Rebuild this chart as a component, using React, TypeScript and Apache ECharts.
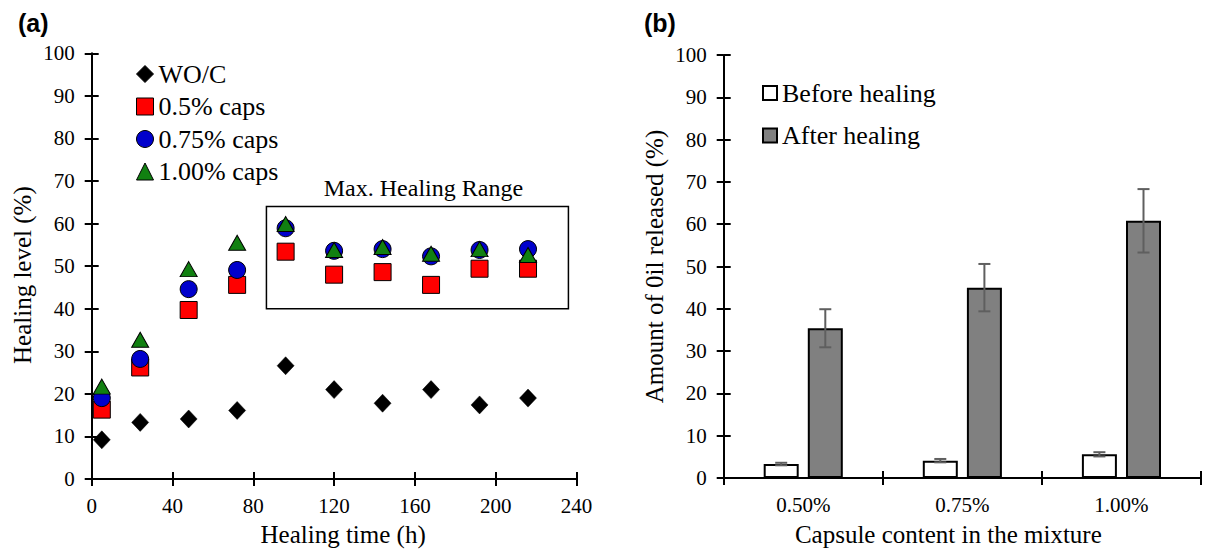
import React, { useEffect, useRef } from "react";
import * as echarts from "echarts";

// ---------- data (a) ----------
const hours = [5, 24, 48, 72, 96, 120, 144, 168, 192, 216];
const wocLevel = [9.2, 13.3, 14.1, 16.1, 26.6, 21.0, 17.8, 21.0, 17.4, 19.0];
const caps050Level = [16.3, 26.2, 39.7, 45.6, 53.4, 48.0, 48.6, 45.6, 49.4, 49.4];
const caps075Level = [19.0, 28.2, 44.6, 49.1, 58.9, 53.6, 54.0, 52.3, 53.8, 54.0];
const caps100Level = [21.7, 32.7, 49.3, 55.5, 59.9, 53.8, 54.5, 52.9, 54.0, 52.6];
const seriesNamesA = ["WO/C", "0.5% caps", "0.75% caps", "1.00% caps"];
const maxRangeHours = [86.5, 236];
const maxRangeLevel = [40, 64];
const maxRangeLabel = "Max. Healing Range";

// ---------- data (b) ----------
const capsuleContent = ["0.50%", "0.75%", "1.00%"];
const beforeHealing = [3.3, 4.1, 5.6];
const beforeErr = [0.3, 0.4, 0.5];
const afterHealing = [35.4, 45.0, 60.8];
const afterErr = [4.5, 5.6, 7.5];
const seriesNamesB = ["Before healing", "After healing"];

const FONT = "Liberation Serif";
const BAR_W = 0.22;
const BAR_GAP = 0.26;

function pair(xs: number[], ys: number[]) {
  return xs.map((x, i) => [x, ys[i]]);
}

function errorSeries(vals: number[], errs: number[], side: number) {
  return {
    type: "custom",
    xAxisIndex: 2,
    yAxisIndex: 2,
    z: 10,
    silent: true,
    data: vals.map((v, i) => [i, v - errs[i], v + errs[i]]),
    renderItem: (params: any, api: any) => {
      const i = api.value(0);
      const lo = api.coord([i, api.value(1)]);
      const hi = api.coord([i, api.value(2)]);
      const band = api.size([1, 0])[0];
      const bw = band * BAR_W;
      const gap = bw * BAR_GAP;
      const x = lo[0] + (side * (bw + gap)) / 2;
      const cap = 6;
      const style = { stroke: "#5f5f5f", lineWidth: 2 };
      return {
        type: "group",
        children: [
          { type: "line", shape: { x1: x, y1: lo[1], x2: x, y2: hi[1] }, style },
          { type: "line", shape: { x1: x - cap, y1: hi[1], x2: x + cap, y2: hi[1] }, style },
          { type: "line", shape: { x1: x - cap, y1: lo[1], x2: x + cap, y2: lo[1] }, style },
        ],
      };
    },
  };
}

const axisLine = { show: true, lineStyle: { color: "#000", width: 2 } };
const tickOut = { show: true, length: 7, lineStyle: { color: "#000", width: 2 } };
const tickIn = { show: true, inside: true, length: 7, lineStyle: { color: "#000", width: 2 } };
const labelStyle = { fontFamily: FONT, fontSize: 21, color: "#000" };
const nameStyle = { fontFamily: FONT, fontSize: 25, color: "#000" };

export default function App() {
  const ref = useRef<HTMLDivElement>(null);
  useEffect(() => {
    if (!ref.current) return;
    const chart = echarts.init(ref.current, undefined, { renderer: "svg" });
    const option: any = {
      animation: false,
      backgroundColor: "#fff",
      textStyle: { fontFamily: FONT },
      title: [
        {
          text: "(a)",
          left: 13,
          top: 5,
          textStyle: { fontFamily: "Liberation Sans", fontWeight: "bold", fontSize: 25, color: "#000" },
        },
        {
          text: "(b)",
          left: 639,
          top: 5,
          textStyle: { fontFamily: "Liberation Sans", fontWeight: "bold", fontSize: 25, color: "#000" },
        },
      ],
      legend: [
        {
          data: seriesNamesA,
          orient: "vertical",
          left: 131,
          top: 56,
          itemWidth: 17,
          itemHeight: 17,
          itemGap: 6.5,
          itemStyle: { borderColor: "#000", borderWidth: 1, opacity: 1 },
          textStyle: { fontFamily: FONT, fontSize: 26, color: "#000" },
          selectedMode: false,
        },
        {
          data: seriesNamesB,
          orient: "vertical",
          left: 757,
          top: 75,
          itemWidth: 14,
          itemHeight: 14,
          itemGap: 16.5,
          icon: "rect",
          textStyle: { fontFamily: FONT, fontSize: 26, color: "#000" },
          selectedMode: false,
        },
      ],
      grid: [
        { left: 91.7, top: 53.3, width: 484.8, height: 426, containLabel: false },
        { left: 723.7, top: 55, width: 477.3, height: 425.7, containLabel: false },
      ],
      xAxis: [
        {
          gridIndex: 0,
          type: "value",
          min: 0,
          max: 240,
          interval: 40,
          axisLine,
          axisTick: tickOut,
          axisLabel: { ...labelStyle, margin: 16 },
          splitLine: { show: false },
          name: "Healing time (h)",
          nameLocation: "middle",
          nameGap: 43,
          nameTextStyle: { ...nameStyle, padding: [0, 0, 0, 18] },
        },
        {
          gridIndex: 0,
          type: "value",
          position: "bottom",
          min: 0,
          max: 240,
          interval: 40,
          axisLine: { show: false },
          axisTick: tickIn,
          axisLabel: { show: false },
          splitLine: { show: false },
        },
        {
          gridIndex: 1,
          type: "category",
          data: capsuleContent,
          axisLine,
          axisTick: tickOut,
          axisLabel: { ...labelStyle, margin: 16 },
          splitLine: { show: false },
          name: "Capsule content in the mixture",
          nameLocation: "middle",
          nameGap: 44,
          nameTextStyle: { ...nameStyle, padding: [0, 28, 0, 0] },
        },
        {
          gridIndex: 1,
          type: "category",
          position: "bottom",
          data: capsuleContent,
          axisLine: { show: false },
          axisTick: tickIn,
          axisLabel: { show: false },
          splitLine: { show: false },
        },
      ],
      yAxis: [
        {
          gridIndex: 0,
          type: "value",
          min: 0,
          max: 100,
          interval: 10,
          axisLine,
          axisTick: tickOut,
          axisLabel: { ...labelStyle, margin: 17 },
          splitLine: { show: false },
          name: "Healing level (%)",
          nameLocation: "middle",
          nameGap: 57,
          nameTextStyle: { ...nameStyle, padding: [0, 18, 0, 0] },
        },
        {
          gridIndex: 0,
          type: "value",
          position: "left",
          min: 0,
          max: 100,
          interval: 10,
          axisLine: { show: false },
          axisTick: tickIn,
          axisLabel: { show: false },
          splitLine: { show: false },
        },
        {
          gridIndex: 1,
          type: "value",
          min: 0,
          max: 100,
          interval: 10,
          axisLine,
          axisTick: tickOut,
          axisLabel: { ...labelStyle, margin: 17 },
          splitLine: { show: false },
          name: "Amount of 0il released (%)",
          nameLocation: "middle",
          nameGap: 57,
          nameTextStyle: nameStyle,
        },
        {
          gridIndex: 1,
          type: "value",
          position: "left",
          min: 0,
          max: 100,
          interval: 10,
          axisLine: { show: false },
          axisTick: tickIn,
          axisLabel: { show: false },
          splitLine: { show: false },
        },
      ],
      series: [
        {
          name: seriesNamesA[0],
          type: "scatter",
          xAxisIndex: 0,
          yAxisIndex: 0,
          symbol: "diamond",
          symbolSize: [17, 18],
          itemStyle: { color: "#000", borderColor: "#000", borderWidth: 0.5, opacity: 1 },
          data: pair(hours, wocLevel),
          markArea: {
            silent: true,
            itemStyle: { color: "rgba(0,0,0,0)", borderColor: "#000", borderWidth: 1.5, opacity: 1 },
            label: {
              show: true,
              position: "top",
              distance: 6,
              offset: [6, 0],
              fontFamily: FONT,
              fontSize: 24,
              color: "#000",
            },
            data: [
              [
                { name: maxRangeLabel, coord: [maxRangeHours[0], maxRangeLevel[1]] },
                { coord: [maxRangeHours[1], maxRangeLevel[0]] },
              ],
            ],
          },
        },
        {
          name: seriesNamesA[1],
          type: "scatter",
          xAxisIndex: 0,
          yAxisIndex: 0,
          symbol: "rect",
          symbolSize: 17,
          itemStyle: { color: "#ff0000", borderColor: "#000", borderWidth: 1, opacity: 1 },
          data: pair(hours, caps050Level),
        },
        {
          name: seriesNamesA[2],
          type: "scatter",
          xAxisIndex: 0,
          yAxisIndex: 0,
          symbol: "circle",
          symbolSize: 17,
          itemStyle: { color: "#0000cc", borderColor: "#000", borderWidth: 1, opacity: 1 },
          data: pair(hours, caps075Level),
        },
        {
          name: seriesNamesA[3],
          type: "scatter",
          xAxisIndex: 0,
          yAxisIndex: 0,
          symbol: "triangle",
          symbolSize: [17, 15],
          itemStyle: { color: "#118011", borderColor: "#000", borderWidth: 1, opacity: 1 },
          data: pair(hours, caps100Level),
        },
        {
          name: seriesNamesB[0],
          type: "bar",
          xAxisIndex: 2,
          yAxisIndex: 2,
          barWidth: BAR_W * 100 + "%",
          barGap: BAR_GAP * 100 + "%",
          itemStyle: { color: "#fff", borderColor: "#000", borderWidth: 2 },
          data: beforeHealing,
        },
        {
          name: seriesNamesB[1],
          type: "bar",
          xAxisIndex: 2,
          yAxisIndex: 2,
          barWidth: BAR_W * 100 + "%",
          barGap: BAR_GAP * 100 + "%",
          itemStyle: { color: "#808080", borderColor: "#000", borderWidth: 2 },
          data: afterHealing,
        },
        errorSeries(beforeHealing, beforeErr, -1),
        errorSeries(afterHealing, afterErr, 1),
      ],
    };
    chart.setOption(option);
    return () => chart.dispose();
  }, []);
  return (
    <div
      ref={ref}
      style={{ position: "absolute", left: 0, top: 0, width: 1205, height: 552, background: "#fff" }}
    />
  );
}
